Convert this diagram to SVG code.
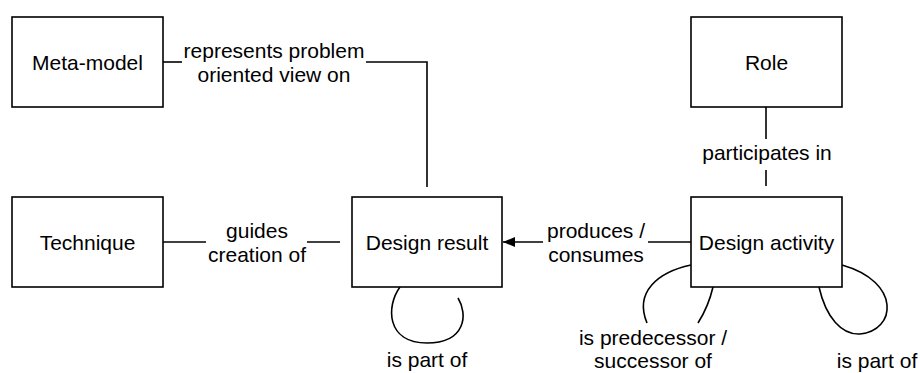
<svg xmlns="http://www.w3.org/2000/svg" width="920" height="373" viewBox="0 0 920 373">
  <defs>
    <marker id="arrow" viewBox="0 0 12 10" refX="12" refY="5" markerWidth="12" markerHeight="10" markerUnits="userSpaceOnUse" orient="auto">
      <path d="M0,0 L12,5 L0,10 Z" fill="#000"/>
    </marker>
    <style>
      .box { fill: #fff; stroke: #000; stroke-width: 1.6; }
      .line { fill: none; stroke: #000; stroke-width: 1.6; }
      text { font-family: "Liberation Sans", Arial, sans-serif; font-size: 21px; fill: #000; text-anchor: middle; }
    </style>
  </defs>
  <rect width="920" height="373" fill="#fff"/>

  <!-- connectors -->
  <g id="connectors">
    <!-- Meta-model to Design result -->
    <path class="line" d="M163,62 H182"/>
    <path class="line" d="M366,62 H427 V187"/>
    <text x="274" y="57.5">represents problem</text>
    <text x="274" y="81.5">oriented view on</text>

    <!-- Role to Design activity -->
    <path class="line" d="M766,107 V139"/>
    <path class="line" d="M766,170 V186"/>
    <text x="767" y="160">participates in</text>

    <!-- Technique to Design result -->
    <path class="line" d="M163,242 H206"/>
    <path class="line" d="M307,242 H340"/>
    <text x="257" y="237.5">guides</text>
    <text x="257" y="261.5">creation of</text>

    <!-- Design activity to Design result -->
    <path class="line" d="M691,242 H648"/>
    <path class="line" d="M543,242 H503" marker-end="url(#arrow)"/>
    <text x="596" y="237.5">produces /</text>
    <text x="596" y="261.5">consumes</text>

    <!-- Design result self loop -->
    <path class="line" d="M400,287 C386,306 386,343 427,343 C466,343 468,314 458,298"/>
    <text x="427" y="367">is part of</text>

    <!-- Design activity predecessor loop -->
    <path class="line" d="M691,265 C658,272 634,292 647,323"/>
    <path class="line" d="M713,287 C710,300 705,312 698,323"/>
    <text x="653" y="345">is predecessor /</text>
    <text x="653" y="368">successor of</text>

    <!-- Design activity part-of loop -->
    <path class="line" d="M819,287 C826,318 842,335 860,334 C896,331 902,282 842,265"/>
    <text x="877" y="368">is part of</text>
  </g>

  <g id="meta-model">
    <rect class="box" x="12" y="17" width="151" height="90"/>
    <text x="87.5" y="69.5">Meta-model</text>
  </g>
  <g id="role">
    <rect class="box" x="691" y="17" width="151" height="90"/>
    <text x="766.5" y="69.5">Role</text>
  </g>
  <g id="technique">
    <rect class="box" x="12" y="197" width="151" height="90"/>
    <text x="87.5" y="249.5">Technique</text>
  </g>
  <g id="design-result">
    <rect class="box" x="352" y="197" width="150" height="90"/>
    <text x="427" y="249.5">Design result</text>
  </g>
  <g id="design-activity">
    <rect class="box" x="691" y="197" width="151" height="90"/>
    <text x="766.5" y="249.5">Design activity</text>
  </g>
</svg>
